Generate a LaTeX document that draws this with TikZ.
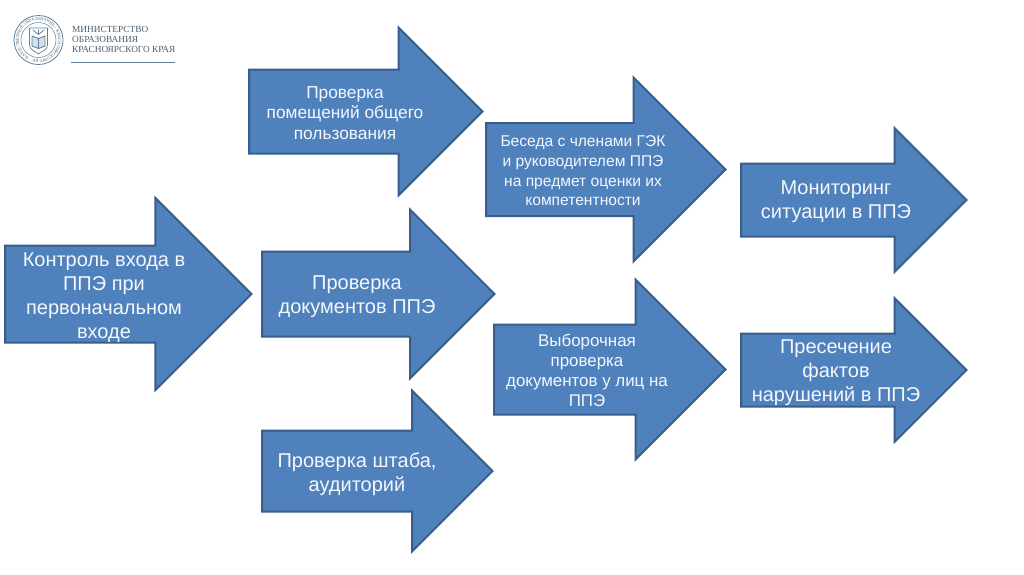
\documentclass[tikz,border=0pt]{standalone}
\usepackage{fontspec}
\setmainfont{Liberation Sans}
\newfontfamily\logofont{Liberation Serif}
\usetikzlibrary{shapes.arrows,decorations.text}

\definecolor{arrowfill}{HTML}{4F81BD}
\definecolor{arrowline}{HTML}{385D8A}
\definecolor{arrowtext}{HTML}{F4F7FB}
\definecolor{logoblue}{HTML}{5F7F9C}
\definecolor{logoink}{HTML}{4C5F72}

\begin{document}
\begin{tikzpicture}[
    x=1pt, y=-1pt,
    flowarrow/.style n args={3}{shape=single arrow, draw=arrowline, fill=arrowfill, line width=2pt,
                outer sep=0pt, inner xsep=0pt, anchor=tail, single arrow head indent=0pt,
                single arrow tip angle=90, minimum height=#1, inner ysep=#2, single arrow head extend=#3},
    arrowlabel/.style 2 args={text=arrowtext, align=center, inner sep=0pt, font=\fontsize{#1}{#2}\selectfont},
    biglabel/.style={arrowlabel={20}{24}},
    logotitle/.style={text=logoink, align=left, inner sep=0pt, anchor=north west,
                font=\logofont\fontsize{9.3}{10.3}\selectfont},
    logoring/.style={draw=logoblue, line width=0.8pt},
    logorule/.style={draw=logoblue, line width=1.4pt},
]
\useasboundingbox (0,0) rectangle (1024,574);

% arrows, left column to right column
\node[flowarrow={246.5pt}{47.5pt}{47.5pt}] (entry)    at (5,294)     {};
\node[flowarrow={233.5pt}{41pt}{42pt}]     (rooms)    at (249,111.5) {};
\node[flowarrow={232.5pt}{41.5pt}{42pt}]   (docs)     at (262,294)   {};
\node[flowarrow={230.5pt}{39.5pt}{40pt}]   (hq)       at (262,471)   {};
\node[flowarrow={239.5pt}{45.5pt}{45.5pt}] (talk)     at (486,169.5) {};
\node[flowarrow={231.5pt}{44pt}{45pt}]     (sample)   at (494,369.5) {};
\node[flowarrow={225.5pt}{35.5pt}{35.5pt}] (monitor)  at (741,200)   {};
\node[flowarrow={225.5pt}{35.5pt}{35.5pt}] (suppress) at (741,370)   {};

% arrow labels
\node[biglabel] (entrytext)    at (104,297.5) {Контроль входа в\\ППЭ при\\первоначальном\\входе};
\node[arrowlabel={17.3}{20.7}] (roomstext)  at (345,113) {Проверка\\помещений общего\\пользования};
\node[biglabel] (docstext)     at (357,297) {Проверка\\документов ППЭ};
\node[biglabel] (hqtext)       at (357,474) {Проверка штаба,\\аудиторий};
\node[arrowlabel={15.6}{19.7}] (talktext)   at (583,171) {Беседа с членами ГЭК\\и руководителем ППЭ\\на предмет оценки их\\компетентности};
\node[arrowlabel={16.9}{20}]   (sampletext) at (587,370) {Выборочная\\проверка\\документов у лиц на\\ППЭ};
\node[biglabel] (monitortext)  at (836,202) {Мониторинг\\ситуации в ППЭ};
\node[biglabel] (suppresstext) at (836,373) {Пресечение\\фактов\\нарушений в ППЭ};

% logo
\node[logoring, circle, minimum size=49pt, inner sep=0pt] (seal) at (38.5,40) {};
\node[logoring, circle, minimum size=35pt, inner sep=0pt, line width=0.5pt] (sealin) at (38.5,40) {};
\path[postaction={decorate, decoration={text along path, text align=fit to path,
      text={|\logofont\fontsize{4.4}{5}\selectfont\color{logoink}|КАЧЕСТВЕННОЕ ОБРАЗОВАНИЕ – КРАСНОЯРСКОМУ КРАЮ – }}}]
  (seal.center) ++(-120:19.6pt) arc[start angle=240, end angle=-110, radius=19.6pt];
\draw[logoblue, line width=0.7pt, fill=white]
  (29.5,28) -- (47.5,28) -- (47.5,45) .. controls (47.5,50) and (42,51) .. (38.5,54) .. controls (35,51) and (29.5,50) .. (29.5,45) -- cycle;
\draw[logoblue, line width=0.9pt, fill=logoblue!25]
  (32,36) -- (38.5,38.5) -- (45,36) -- (45,46) -- (38.5,48.5) -- (32,46) -- cycle (38.5,38.5) -- (38.5,48.5);
\draw[logoblue, line width=0.8pt] (33,30) -- (38.5,34.5) -- (44,30) (38.5,29.5) -- (38.5,34.5);
\node[logotitle] (logotext) at (72,26) {МИНИСТЕРСТВО\\ОБРАЗОВАНИЯ\\КРАСНОЯРСКОГО КРАЯ};
\draw[logorule] (71,62.5) -- (175,62.5);
\end{tikzpicture}
\end{document}
